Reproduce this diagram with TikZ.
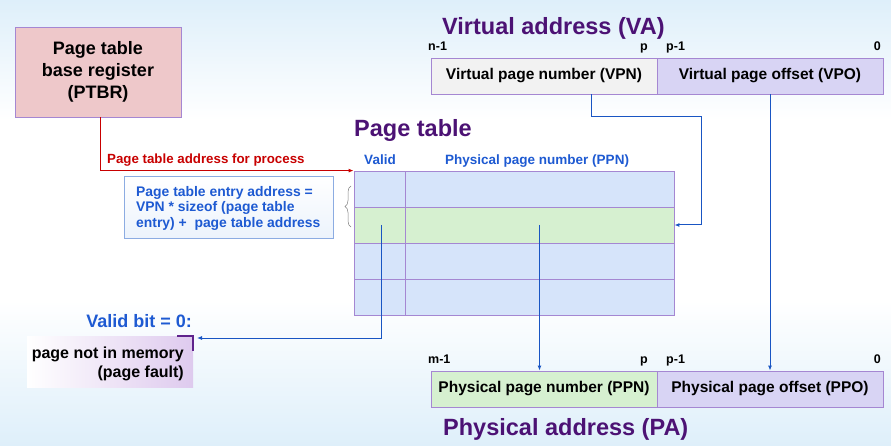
\documentclass[tikz,border=0pt]{standalone}
\usepackage{fontspec}
\setmainfont{Liberation Sans}
\usetikzlibrary{arrows.meta,decorations.pathreplacing,calc}
\definecolor{ttlpurple}{RGB}{76,18,116}
\definecolor{txtblue}{RGB}{30,90,210}
\definecolor{lnblue}{RGB}{25,85,195}
\definecolor{bordpurple}{RGB}{165,135,210}
\definecolor{ptbrfill}{RGB}{238,200,202}
\definecolor{cellblue}{RGB}{214,228,250}
\definecolor{cellgreen}{RGB}{214,240,208}
\definecolor{lavender}{RGB}{216,212,244}
\definecolor{lightgray}{RGB}{242,242,242}
\definecolor{bgblue}{RGB}{222,239,250}
\definecolor{faultlav}{RGB}{222,202,238}
\definecolor{markpurple}{RGB}{95,35,140}
\definecolor{redln}{RGB}{200,0,0}
\begin{document}
\begin{tikzpicture}[x=1pt,y=-1pt,
  every node/.style={inner sep=0pt},
  ttl/.style={font=\fontsize{23.5}{28}\selectfont\bfseries, text=ttlpurple, anchor=base west},
  bitlbl/.style={font=\fontsize{12.5}{15}\selectfont\bfseries, anchor=base west},
  fieldbox/.style={draw=bordpurple, line width=0.8pt, minimum width=226pt, minimum height=36pt, font=\fontsize{15.5}{18}\selectfont\bfseries},
  cellv/.style={draw=bordpurple, line width=0.8pt, minimum width=51pt, minimum height=36pt},
  cellp/.style={draw=bordpurple, line width=0.8pt, minimum width=269pt, minimum height=36pt},
  hdr/.style={font=\fontsize{13.5}{16}\selectfont\bfseries, text=txtblue, anchor=base},
  bluearrow/.style={draw=lnblue, line width=1pt, -{Latex[length=5pt,width=4pt]}},
]
\useasboundingbox (0,0) rectangle (891,446);
% background
\shade[top color=bgblue, bottom color=white] (0,0) rectangle (891,120);
\fill[white] (0,120) rectangle (891,300);
\shade[top color=white, bottom color=bgblue] (0,300) rectangle (891,446);

% PTBR
\node[draw=bordpurple, fill=ptbrfill, line width=0.8pt, minimum width=166pt, minimum height=90pt,
  align=center, font=\fontsize{18}{22}\selectfont\bfseries] (ptbr) at (98,72)
  {Page table\\base register\\(PTBR)};

% Titles
\node[ttl] (vatitle) at (442,35) {Virtual address (VA)};
\node[ttl] (pttitle) at (354,137) {Page table};
\node[ttl] (patitle) at (443,435) {Physical address (PA)};

% VA fields
\node[fieldbox, fill=lightgray] (vpn) at (544,76) {Virtual page number (VPN)};
\node[fieldbox, fill=lavender] (vpo) at (770,76) {Virtual page offset (VPO)};
\node[bitlbl] (van1) at (428,51) {n-1};
\node[bitlbl] (vap) at (640,51) {p};
\node[bitlbl] (vap1) at (666,51) {p-1};
\node[bitlbl, anchor=base east] (va0) at (881,51) {0};

% PA fields
\node[fieldbox, fill=cellgreen] (ppn) at (544,389) {Physical page number (PPN)};
\node[fieldbox, fill=lavender] (ppo) at (770,389) {Physical page offset (PPO)};
\node[bitlbl] (pam1) at (428,363) {m-1};
\node[bitlbl] (pap) at (640,363) {p};
\node[bitlbl] (pap1) at (666,363) {p-1};
\node[bitlbl, anchor=base east] (pa0) at (881,363) {0};

% Page table
\node[cellv, fill=cellblue] (v1) at (379.5,189) {};
\node[cellp, fill=cellblue] (p1) at (539.5,189) {};
\node[cellv, fill=cellgreen] (v2) at (379.5,225) {};
\node[cellp, fill=cellgreen] (p2) at (539.5,225) {};
\node[cellv, fill=cellblue] (v3) at (379.5,261) {};
\node[cellp, fill=cellblue] (p3) at (539.5,261) {};
\node[cellv, fill=cellblue] (v4) at (379.5,297) {};
\node[cellp, fill=cellblue] (p4) at (539.5,297) {};
\node[hdr] (hvalid) at (380,165) {Valid};
\node[hdr, anchor=base west] (hppn) at (445,165) {Physical page number (PPN)};

% red connector
\node[font=\fontsize{13.3}{16}\selectfont\bfseries, text=redln, anchor=base west] (redlbl) at (107,164) {Page table address for process};
\draw[draw=redln, line width=1pt, -{Latex[length=5pt,width=4pt]}] ([xshift=2pt]ptbr.south) |- (v1.north west);

% PTE address box
\node[draw={rgb,255:red,140;green,172;blue,226}, line width=0.8pt, top color=white, bottom color={rgb,255:red,236;green,243;blue,252},
  minimum width=209pt, minimum height=62pt] (ptebox) at (228.5,207) {};
\node[align=left, anchor=west, text=txtblue, font=\fontsize{13.9}{15.5}\selectfont\bfseries] (ptetext) at (136,208)
  {Page table entry address =\\VPN * sizeof (page table\\entry) +\ \ page table address};
\draw[draw=gray, line width=0.5pt, decorate, decoration={brace, amplitude=6pt}] (351,227) -- (351,186);

% Valid bit = 0 / page fault
\node[font=\fontsize{18}{22}\selectfont\bfseries, text=txtblue, anchor=east] (vbit) at (192,321) {Valid bit = 0:};
\node[left color=white, right color=faultlav, minimum width=166pt, minimum height=51pt] (fault) at (110,361.5) {};
\node[align=right, anchor=east, font=\fontsize{16}{19}\selectfont\bfseries] (faulttext) at (184,363.5) {page not in memory\\(page fault)};
\draw[draw=markpurple, line width=1.8pt] ([xshift=-16pt]fault.north east) -- (fault.north east) -- ([yshift=-15pt]fault.north east);
\coordinate (vbend) at (197,338);

% blue connectors
\coordinate (vpnturn) at (701,117);
\draw[bluearrow] ([xshift=47pt]vpn.south) |- (vpnturn) |- (p2.east);
\draw[bluearrow] (vpo.south) -- (ppo.north);
\draw[bluearrow] (p2.center) -- (p2.center |- ppn.north);
\draw[bluearrow] ([xshift=2pt]v2.center) |- (vbend);
\end{tikzpicture}
\end{document}
